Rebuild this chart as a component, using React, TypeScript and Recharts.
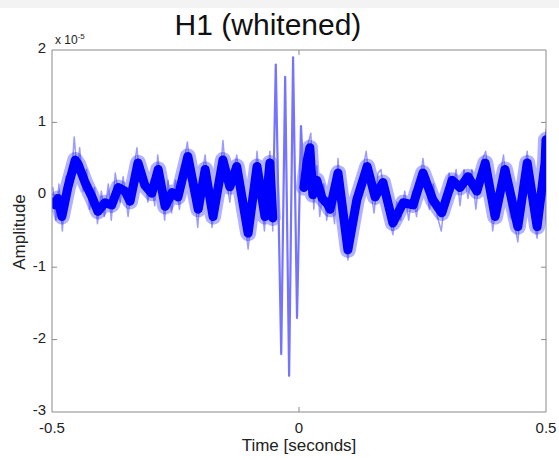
import React from "react"
import { LineChart, Line, XAxis, YAxis, ReferenceLine } from "recharts"

// amplitude values are in units of 1e-5
const leftTimes = [
  -0.5, -0.494, -0.488, -0.48, -0.468, -0.453, -0.447, -0.433, -0.419, -0.407, -0.393, -0.379, -0.366,
  -0.352, -0.342, -0.326, -0.312, -0.298, -0.285, -0.271, -0.257, -0.245, -0.225, -0.204, -0.19,
  -0.174, -0.154, -0.14, -0.126, -0.103, -0.085, -0.069, -0.059, -0.053,
]
const leftAmps = [
  -0.1, -0.14, -0.05, -0.3, 0.1, 0.48, 0.42, 0.17, -0.03, -0.23, -0.11, -0.14, 0.1,
  0.05, -0.09, 0.44, 0.13, 0.02, 0.35, -0.16, 0.03, -0.03, 0.53, -0.2, 0.35,
  -0.3, 0.48, 0.11, 0.39, -0.53, 0.39, -0.3, 0.44, -0.32,
]

const chirpTimes = [-0.053, -0.047, -0.036, -0.028, -0.02, -0.012, -0.004, 0.004, 0.01]
const chirpAmps = [-0.32, 1.8, -2.2, 1.63, -2.5, 1.9, -1.7, 0.95, 0.1]

const rightTimes = [
  0.01, 0.016, 0.022, 0.028, 0.036, 0.047, 0.057, 0.063, 0.079, 0.099, 0.117, 0.138, 0.154,
  0.17, 0.19, 0.211, 0.231, 0.251, 0.271, 0.289, 0.31, 0.326, 0.342, 0.36, 0.377, 0.397, 0.417,
  0.443, 0.462, 0.482, 0.498, 0.5,
]
const rightAmps = [
  0.1, 0.45, 0.65, 0.0, 0.2, -0.05, -0.12, -0.2, 0.3, -0.76, -0.07, 0.39, -0.03,
  0.17, -0.39, -0.11, -0.14, 0.3, -0.07, -0.25, 0.2, 0.1, 0.25, 0.05, 0.44, -0.3, 0.35,
  -0.44, 0.44, -0.44, 0.44, 0.76,
]

// light noise spikes around the band
const leftSpikeTimes = [
  -0.498, -0.492, -0.486, -0.479, -0.472, -0.46, -0.455, -0.449, -0.444, -0.437, -0.43, -0.424, -0.414,
  -0.408, -0.4, -0.394, -0.386, -0.38, -0.372, -0.362, -0.356, -0.346, -0.336, -0.328, -0.322, -0.316,
  -0.306, -0.3, -0.292, -0.286, -0.279, -0.272, -0.265, -0.258, -0.25, -0.242, -0.234, -0.226, -0.219,
  -0.212, -0.205, -0.198, -0.19, -0.183, -0.176, -0.168, -0.158, -0.154, -0.147, -0.14, -0.133, -0.126,
  -0.118, -0.11, -0.103, -0.096, -0.089, -0.085, -0.078, -0.07, -0.064, -0.059, -0.055, -0.053,
]
const leftSpikeAmps = [
  0.1, -0.35, 0.15, -0.5, 0.25, 0.3, 0.8, 0.3, 0.65, 0.05, 0.35, -0.2, 0.1,
  -0.4, 0.05, -0.3, 0.15, -0.35, 0.3, -0.1, 0.25, -0.3, 0.3, 0.65, 0.2, 0.4,
  -0.1, 0.2, -0.15, 0.55, 0.1, -0.35, 0.2, -0.25, 0.2, -0.2, 0.4, 0.73, 0.3,
  0.05, -0.45, 0.2, 0.55, 0.05, -0.45, 0.1, 0.4, 0.75, 0.2, -0.1, 0.3, 0.55,
  0.1, -0.3, -0.75, -0.3, 0.2, 0.6, 0.1, -0.5, 0.1, 0.6, -0.1, -0.5,
]
const rightSpikeTimes = [
  0.012, 0.018, 0.024, 0.03, 0.036, 0.042, 0.05, 0.056, 0.064, 0.072, 0.079, 0.086, 0.093, 0.099,
  0.106, 0.112, 0.12, 0.128, 0.136, 0.144, 0.152, 0.16, 0.166, 0.174, 0.182, 0.19, 0.198, 0.206,
  0.214, 0.222, 0.23, 0.238, 0.246, 0.251, 0.258, 0.264, 0.272, 0.28, 0.288, 0.296, 0.304, 0.312,
  0.318, 0.326, 0.334, 0.342, 0.35, 0.358, 0.366, 0.372, 0.378, 0.386, 0.392, 0.4, 0.408, 0.414,
  0.42, 0.428, 0.436, 0.443, 0.45, 0.456, 0.462, 0.468, 0.474, 0.482, 0.49, 0.496, 0.5,
]
const rightSpikeAmps = [
  0.3, 0.7, 0.85, -0.2, 0.4, -0.3, 0.15, -0.35, 0.05, -0.4, 0.5, -0.2, -0.55, -0.9,
  -0.4, -0.2, 0.15, 0.3, 0.6, 0.1, -0.25, 0.3, 0.35, -0.1, -0.3, -0.55, -0.1, -0.35,
  0.05, -0.35, 0.05, -0.3, 0.25, 0.5, 0.1, -0.2, 0.15, -0.3, -0.5, -0.05, 0.3, 0.05,
  0.35, -0.15, 0.35, -0.05, 0.35, -0.2, 0.3, 0.5, 0.6, 0.1, -0.5, -0.1, 0.3, 0.55,
  0.1, -0.3, -0.4, -0.65, -0.1, 0.3, 0.6, 0.1, -0.3, -0.6, 0.1, 0.5, 0.9,
]

const xTicks = [-0.5, 0, 0.5]
const yTicks = [-3, -2, -1, 0, 1, 2]
const innerYTicks = [-2, -1, 0, 1]

const toRows = (ts: number[], vs: number[]) => ts.map((t, i) => ({ t, v: vs[i] }))
const leftData = toRows(leftTimes, leftAmps)
const chirpData = toRows(chirpTimes, chirpAmps)
const rightData = toRows(rightTimes, rightAmps)
const leftSpikes = toRows(leftSpikeTimes, leftSpikeAmps)
const rightSpikes = toRows(rightSpikeTimes, rightSpikeAmps)

const FONT = "'Liberation Sans', Arial, sans-serif"
const BOX = "#8a8a8a"

const bandProps = {
  dataKey: "v",
  type: "linear" as const,
  stroke: "#0000ff",
  strokeLinejoin: "round" as const,
  strokeLinecap: "round" as const,
  dot: false,
  isAnimationActive: false,
}

export default function App() {
  return (
    <div style={{ position: "absolute", left: 0, top: 0, width: 559, height: 460, background: "#fff", fontFamily: FONT }}>
      <div style={{ position: "absolute", left: 0, top: 0, width: 559, height: 8, background: "#f3f3f3" }} />
      <LineChart width={559} height={460} margin={{ top: 50, right: 13, bottom: 0, left: 0 }}>
        <XAxis
          type="number"
          dataKey="t"
          domain={[-0.5, 0.5]}
          ticks={xTicks}
          allowDataOverflow
          height={48}
          stroke={BOX}
          tickSize={0}
          tickMargin={10}
          tick={{ fill: "#222", fontSize: 15, fontFamily: FONT }}
        />
        <YAxis
          type="number"
          dataKey="v"
          domain={[-3, 2]}
          ticks={yTicks}
          allowDataOverflow
          width={52}
          stroke={BOX}
          tickSize={0}
          tickMargin={6}
          tick={{ fill: "#222", fontSize: 15, fontFamily: FONT, dy: -2 }}
        />
        <ReferenceLine x={0.5} stroke={BOX} />
        <ReferenceLine y={2} stroke={BOX} />
        {innerYTicks.map((y) => (
          <ReferenceLine key={"l" + y} segment={[{ x: -0.5, y }, { x: -0.49, y }]} stroke={BOX} />
        ))}
        {innerYTicks.map((y) => (
          <ReferenceLine key={"r" + y} segment={[{ x: 0.49, y }, { x: 0.5, y }]} stroke={BOX} />
        ))}
        <ReferenceLine segment={[{ x: 0, y: -3 }, { x: 0, y: -2.93 }]} stroke={BOX} />
        <ReferenceLine segment={[{ x: 0, y: 2 }, { x: 0, y: 1.93 }]} stroke={BOX} />

        <Line {...bandProps} data={leftSpikes} stroke="#4a4aff" strokeOpacity={0.55} strokeWidth={1.5} />
        <Line {...bandProps} data={rightSpikes} stroke="#4a4aff" strokeOpacity={0.55} strokeWidth={1.5} />
        <Line {...bandProps} data={leftData} strokeOpacity={0.3} strokeWidth={16} />
        <Line {...bandProps} data={rightData} strokeOpacity={0.3} strokeWidth={16} />
        <Line {...bandProps} data={chirpData} stroke="#7474ff" strokeWidth={2.2} />
        <Line {...bandProps} data={leftData} strokeWidth={9} />
        <Line {...bandProps} data={rightData} strokeWidth={9} />
      </LineChart>

      <div style={{ position: "absolute", left: 0, top: 8, width: 536, textAlign: "center", fontSize: 30, color: "#111" }}>
        H1 (whitened)
      </div>
      <div style={{ position: "absolute", left: 55, top: 32, fontSize: 12, color: "#222" }}>
        x 10<sup style={{ fontSize: 8 }}>-5</sup>
      </div>
      <div
        style={{
          position: "absolute",
          left: 20,
          top: 232,
          fontSize: 17,
          color: "#222",
          transform: "translate(-50%, -50%) rotate(-90deg)",
          whiteSpace: "nowrap",
        }}
      >
        Amplitude
      </div>
      <div style={{ position: "absolute", left: 52, top: 436, width: 494, textAlign: "center", fontSize: 17, color: "#222" }}>
        Time [seconds]
      </div>
    </div>
  )
}
